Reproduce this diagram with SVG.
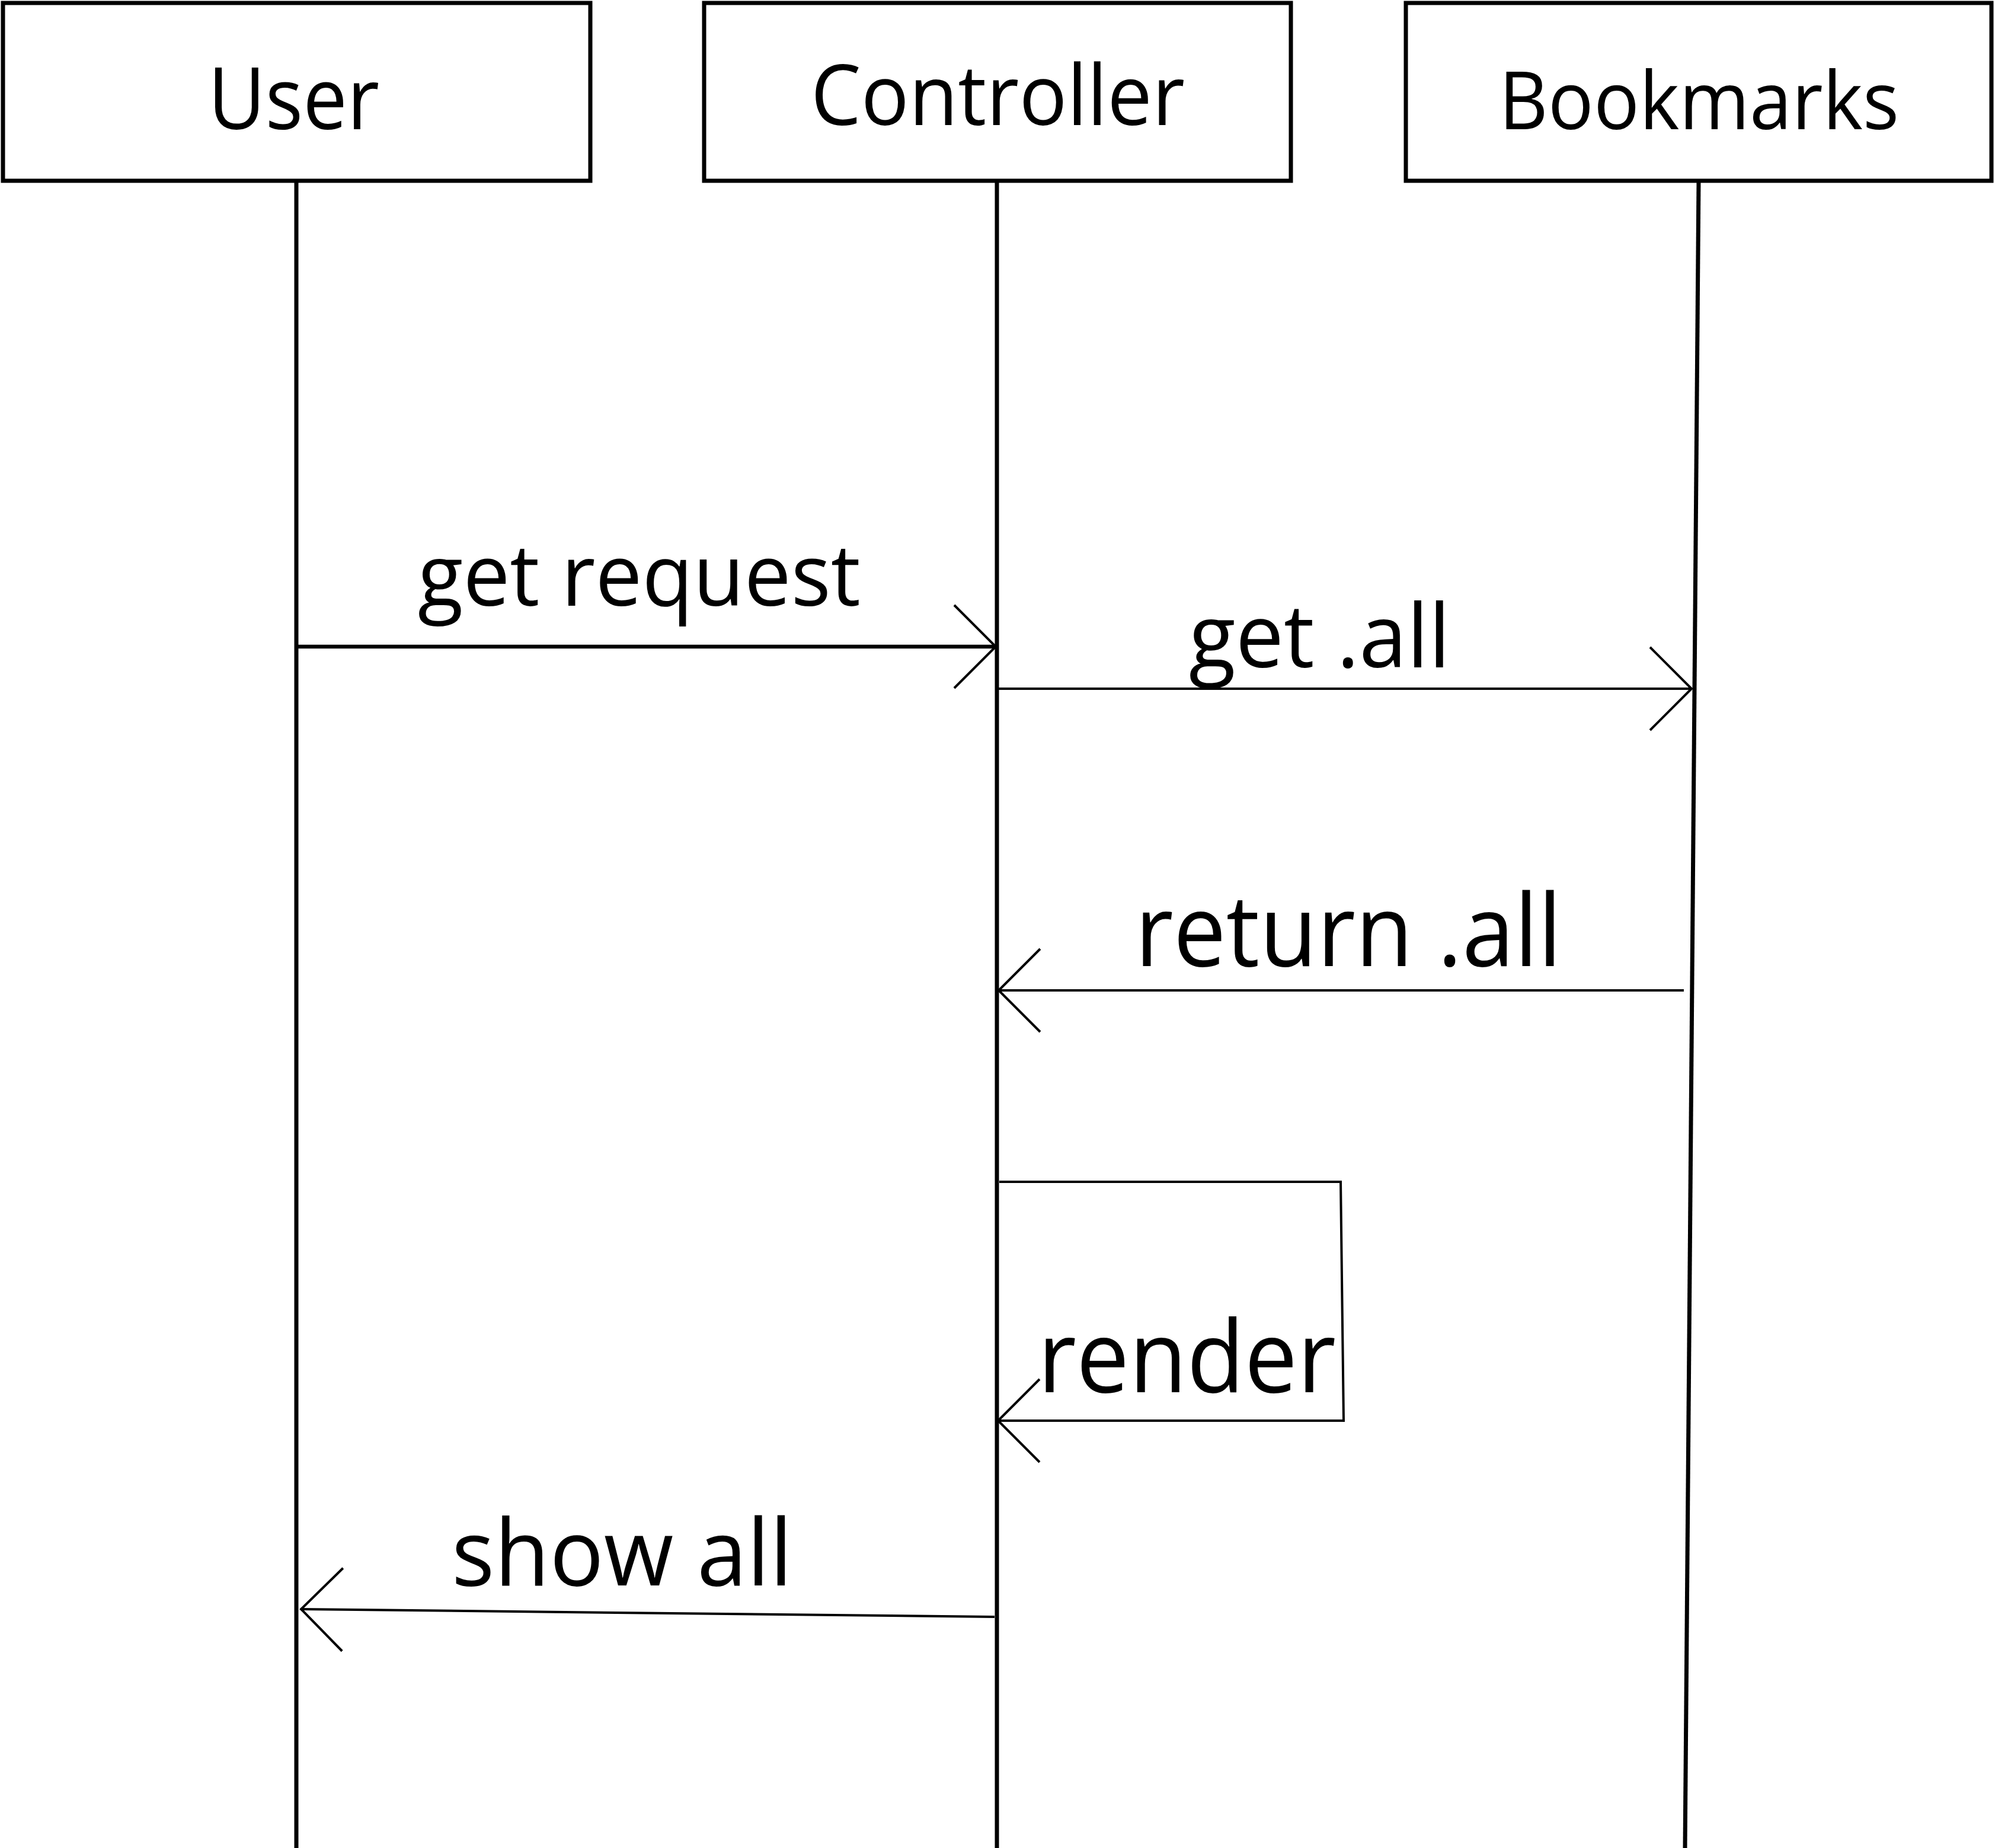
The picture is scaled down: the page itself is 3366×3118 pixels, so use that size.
<svg xmlns="http://www.w3.org/2000/svg" width="3366" height="3118" viewBox="0 0 3366 3118">
<style>
.box{fill:#fff;stroke:#000;stroke-width:7}
.life{fill:none;stroke:#000;stroke-width:7}
.msg{fill:none;stroke:#000;stroke-width:4}
.msg.thick{stroke-width:6.5}
.t{font-family:"Open Sans","Noto Sans",sans-serif;fill:#000}
</style>
<defs>
<marker id="open" markerUnits="userSpaceOnUse" viewBox="-75 -75 80 150" markerWidth="80" markerHeight="150" refX="0" refY="0" orient="auto" overflow="visible">
<path d="M-70,-70 L0,0 L-70,70" fill="none" stroke="#000" stroke-width="4"/>
</marker>
</defs>
<rect width="3366" height="3118" fill="#fff"/>
<g id="user">
<line class="life" x1="500" y1="305" x2="500" y2="3118"/>
<rect class="box" x="5" y="5" width="991" height="300"/>
<text class="t" x="351" y="218" font-size="144" textLength="289" lengthAdjust="spacingAndGlyphs">User</text>
</g>
<g id="controller">
<line class="life" x1="1682" y1="305" x2="1682" y2="3118"/>
<rect class="box" x="1188" y="5" width="990" height="300"/>
<text class="t" x="1368" y="211" font-size="141" textLength="631" lengthAdjust="spacingAndGlyphs">Controller</text>
</g>
<g id="bookmarks">
<line class="life" x1="2866" y1="305" x2="2843" y2="3118"/>
<rect class="box" x="2372" y="5" width="988" height="300"/>
<text class="t" x="2529" y="218" font-size="136" textLength="675" lengthAdjust="spacingAndGlyphs">Bookmarks</text>
</g>
<g id="connectors">
<line class="msg thick" x1="500" y1="1091" x2="1680" y2="1091" marker-end="url(#open)"/>
<text class="t" x="705" y="1022" font-size="145" textLength="747" lengthAdjust="spacingAndGlyphs">get request</text>
<line class="msg" x1="1684" y1="1162" x2="2854" y2="1162" marker-end="url(#open)"/>
<text class="t" x="2006" y="1126" font-size="148" textLength="441" lengthAdjust="spacingAndGlyphs">get .all</text>
<line class="msg" x1="2841" y1="1671" x2="1685" y2="1671" marker-end="url(#open)"/>
<text class="t" x="1915" y="1630" font-size="169" textLength="720" lengthAdjust="spacingAndGlyphs">return .all</text>
<path class="msg" d="M1686,1994 L2262,1994 L2267,2397 L1684,2397" marker-end="url(#open)"/>
<text class="t" x="1751" y="2349" font-size="169" textLength="503" lengthAdjust="spacingAndGlyphs">render</text>
<line class="msg" x1="1678" y1="2728" x2="508" y2="2715" marker-end="url(#open)"/>
<text class="t" x="762" y="2675" font-size="155" textLength="575" lengthAdjust="spacingAndGlyphs">show all</text>
</g>
</svg>
